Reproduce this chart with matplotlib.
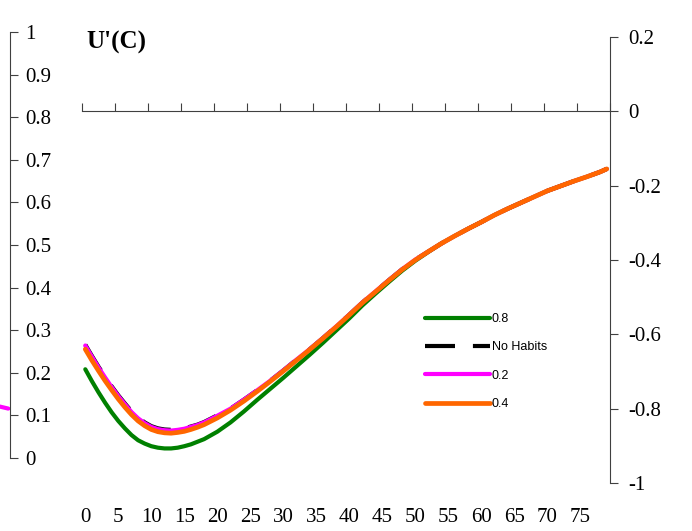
import numpy as np
import matplotlib
matplotlib.use("Agg")
import matplotlib.pyplot as plt

plt.rcParams['font.family'] = ['Liberation Serif', 'DejaVu Serif']

# ---- data -------------------------------------------------------------
ages = [0, 1, 2, 3, 4, 5, 6, 7, 8, 9, 10, 11, 12, 13, 14, 15, 16, 17, 18,
        19, 20, 22, 24, 26, 28, 30, 32, 34, 36, 38, 40, 42, 44, 46, 48, 50,
        52, 54, 56, 58, 60, 62, 64, 66, 68, 70, 72, 74, 76, 78, 79]

habit_08 = [-0.694, -0.726, -0.756, -0.784, -0.810, -0.833, -0.853, -0.871,
            -0.885, -0.894, -0.901, -0.905, -0.907, -0.907, -0.905, -0.901,
            -0.896, -0.889, -0.882, -0.872, -0.862,
            -0.837, -0.808, -0.777, -0.747, -0.717, -0.686, -0.655, -0.623,
            -0.590, -0.557, -0.522, -0.490, -0.459, -0.429, -0.402, -0.378,
            -0.355, -0.335, -0.316, -0.298, -0.279, -0.262, -0.246, -0.230,
            -0.214, -0.201, -0.188, -0.176, -0.163, -0.155]

no_habits = [-0.628, -0.658, -0.687, -0.714, -0.740, -0.764, -0.786, -0.807,
             -0.824, -0.837, -0.847, -0.853, -0.856, -0.857, -0.855, -0.853,
             -0.848, -0.843, -0.836, -0.827, -0.818,
             -0.800, -0.776, -0.751, -0.725, -0.697, -0.668, -0.640, -0.610,
             -0.579, -0.547, -0.514, -0.484, -0.454, -0.425, -0.399, -0.377,
             -0.355, -0.335, -0.316, -0.298, -0.279, -0.262, -0.246, -0.230,
             -0.214, -0.201, -0.188, -0.176, -0.163, -0.155]

habit_02 = [-0.630, -0.660, -0.689, -0.716, -0.742, -0.766, -0.788, -0.809,
            -0.826, -0.839, -0.849, -0.855, -0.858, -0.859, -0.857, -0.854,
            -0.849, -0.844, -0.837, -0.828, -0.819,
            -0.800, -0.776, -0.751, -0.725, -0.697, -0.668, -0.640, -0.610,
            -0.579, -0.547, -0.514, -0.484, -0.454, -0.425, -0.399, -0.377,
            -0.355, -0.335, -0.316, -0.298, -0.279, -0.262, -0.246, -0.230,
            -0.214, -0.201, -0.188, -0.176, -0.163, -0.155]

habit_04 = [-0.640, -0.670, -0.698, -0.725, -0.750, -0.774, -0.796, -0.816,
            -0.833, -0.846, -0.856, -0.862, -0.865, -0.866, -0.864, -0.861,
            -0.856, -0.850, -0.843, -0.834, -0.825,
            -0.804, -0.780, -0.754, -0.727, -0.699, -0.670, -0.641, -0.611,
            -0.580, -0.548, -0.515, -0.485, -0.455, -0.426, -0.400, -0.377,
            -0.355, -0.335, -0.316, -0.298, -0.279, -0.262, -0.246, -0.230,
            -0.214, -0.201, -0.188, -0.176, -0.163, -0.155]

series_labels = ['0.8', 'No Habits', '0.2', '0.4']

# short segment of a series on the left scale, sitting just off the left edge
left_stub = [0.121, 0.116]

x_labels = ['0', '5', '10', '15', '20', '25', '30', '35', '40', '45', '50',
            '55', '60', '65', '70', '75']
x_label_pos = [0, 5, 10, 15, 20, 25, 30, 35, 40, 45, 50, 55, 60, 65, 70, 75]
right_ticks = [-1, -0.8, -0.6, -0.4, -0.2, 0, 0.2]
right_labels = ['-1', '-0.8', '-0.6', '-0.4', '-0.2', '0', '0.2']
left_ticks = [0, 0.1, 0.2, 0.3, 0.4, 0.5, 0.6, 0.7, 0.8, 0.9, 1]
left_labels = ['0', '0.1', '0.2', '0.3', '0.4', '0.5', '0.6', '0.7', '0.8',
               '0.9', '1']

# ---- layout helpers ---------------------------------------------------
W, H = 692, 531
def fx(px):
    return px / W
def fy(py):
    return 1 - py / H

AXC = '#404040'
TICK_FS = 15

fig = plt.figure(figsize=(W / 100, H / 100), dpi=100)

# left-hand scale (0..1)
ax_left = fig.add_axes([fx(9.5), fy(458), (610 - 9.5) / W, (458 - 32) / H])
ax_left.patch.set_visible(False)
ax_left.set_ylim(0, 1)
ax_left.set_xlim(0, 1)
for s in ('top', 'right', 'bottom'):
    ax_left.spines[s].set_visible(False)
ax_left.spines['left'].set_color(AXC)
ax_left.set_xticks([])
ax_left.set_yticks(left_ticks, left_labels)
ax_left.tick_params(axis='y', direction='in', length=6, pad=-11.5,
                    labelsize=TICK_FS, color=AXC)
plt.setp(ax_left.get_yticklabels(), ha='left')
ax_left.plot([-0.017, -0.002], left_stub, color='#FF00FF', lw=3,
             solid_capstyle='round', clip_on=False,
             transform=ax_left.get_yaxis_transform())

# main plot on the right-hand scale
ax = fig.add_axes([fx(82), fy(483), 528 / W, 446 / H])
ax.patch.set_visible(False)
ax.set_xlim(-0.5, 79.5)
ax.set_ylim(-1, 0.2)
ax.spines['left'].set_visible(False)
ax.spines['top'].set_visible(False)
ax.spines['bottom'].set_position(('data', 0))
ax.spines['bottom'].set_color(AXC)
ax.spines['right'].set_color(AXC)
ax.yaxis.tick_right()
ax.set_yticks(right_ticks, right_labels)
ax.tick_params(axis='y', direction='out', length=6, pad=7,
               labelsize=TICK_FS, color=AXC)
ax.set_xticks(np.arange(-0.5, 80, 5))
ax.tick_params(axis='x', direction='in', length=6, labelbottom=False,
               color=AXC)

common = dict(solid_joinstyle='round', solid_capstyle='round')
l1, = ax.plot(ages, habit_08, color='#008000', lw=3.0, **common)
l2, = ax.plot(ages, no_habits, color='black', lw=3.0, dashes=(7.2, 4.3),
              dash_joinstyle='round')
l3, = ax.plot(ages, habit_02, color='#FF00FF', lw=3.0, **common)
l4, = ax.plot(ages, habit_04, color='#FF6600', lw=3.4, **common)

# category labels along the bottom
sec = ax.secondary_xaxis(-0.055)
sec.set_xticks(x_label_pos, x_labels)
sec.tick_params(length=0, pad=0, labelsize=TICK_FS)
sec.spines['bottom'].set_visible(False)

ax.legend([l1, l2, l3, l4], series_labels, loc='center left',
          bbox_to_anchor=(fx(425), fy(361.5)), bbox_transform=fig.transFigure,
          frameon=False, handlelength=5.2, handletextpad=0.15,
          labelspacing=1.3, borderpad=0, borderaxespad=0,
          prop={'family': 'Liberation Sans', 'size': 9})

fig.text(fx(86), fy(42), "U'(C)", fontsize=18, fontweight='bold',
         family='Liberation Serif', ha='left', va='center')

fig.savefig('out.png', dpi=100)
